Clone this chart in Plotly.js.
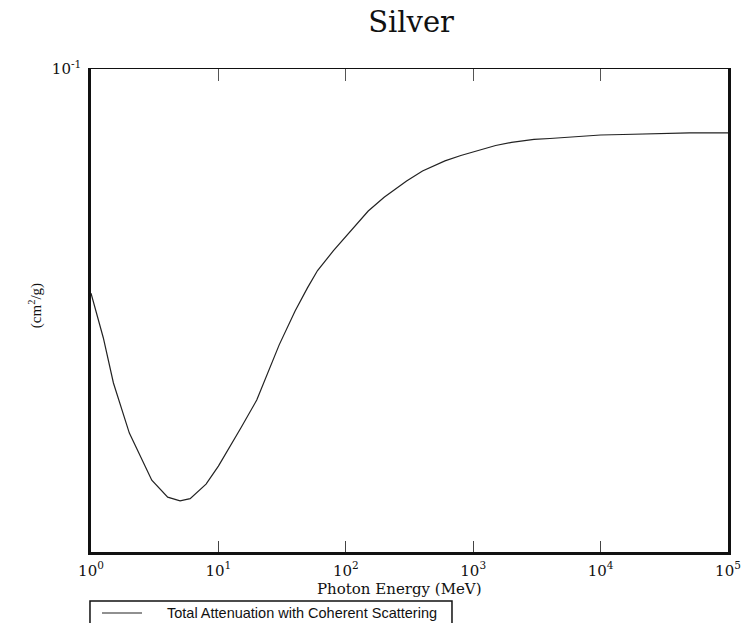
<!DOCTYPE html>
<html>
<head>
<meta charset="utf-8">
<script src="https://cdn.plot.ly/plotly-3.0.1.min.js"></script>
<style>html,body{margin:0;padding:0;background:#fff;}#chart{width:746px;height:623px;}</style>
</head>
<body>
<div id="chart"></div>
<script>
// Photon energy (MeV)
const energy = [1, 1.25, 1.5, 2, 3, 4, 5, 6, 8, 10, 15, 20, 30, 40, 50, 60, 80, 100, 150, 200, 300, 400, 500, 600, 800, 1000, 1500, 2000, 3000, 4000, 5000, 6000, 8000, 10000, 15000, 20000, 30000, 40000, 50000, 60000, 80000, 100000];
// Total attenuation with coherent scattering (cm2/g)
const attenuation = [0.05840, 0.05246, 0.04709, 0.04176, 0.03730, 0.03581, 0.03549, 0.03568, 0.03695, 0.03858, 0.04227, 0.04520, 0.05160, 0.05598, 0.05916, 0.06167, 0.06468, 0.06688, 0.07113, 0.07351, 0.07645, 0.07830, 0.07935, 0.08022, 0.08126, 0.08195, 0.08324, 0.08386, 0.08446, 0.08465, 0.08485, 0.08505, 0.08526, 0.08536, 0.08546, 0.08557, 0.08568, 0.08574, 0.08578, 0.08578, 0.08578, 0.08578];
const xTickVals = [1, 10, 100, 1000, 10000, 100000];
const xTickText = ['10<sup>0</sup>', '10<sup>1</sup>', '10<sup>2</sup>', '10<sup>3</sup>', '10<sup>4</sup>', '10<sup>5</sup>'];
const yTickVals = [0.1];
const yTickText = ['10<sup>-1</sup>'];
const seriesName = 'Total Attenuation with Coherent Scattering';

const serif = 'DejaVu Serif, Liberation Serif, serif';
const traces = [
  {x: energy, y: attenuation, type: 'scatter', mode: 'lines', name: seriesName,
   line: {color: '#222', width: 1.2}, showlegend: false},
  {x: [], y: [], xaxis: 'x2', type: 'scatter', mode: 'lines', showlegend: false, hoverinfo: 'skip'}
];

const layout = {
  width: 746, height: 623,
  margin: {l: 91, r: 18, t: 69, b: 71, autoexpand: false},
  paper_bgcolor: '#fff', plot_bgcolor: '#fff',
  showlegend: false,
  title: {text: 'Silver', font: {family: serif, size: 29, color: '#111'},
          x: 0.551, xref: 'container', xanchor: 'center', y: 0.9647, yref: 'container', yanchor: 'middle'},
  xaxis: {type: 'log', range: [0, 5], tickvals: xTickVals, ticktext: xTickText,
          ticks: 'inside', ticklen: 11, tickwidth: 1.2, tickcolor: '#444',
          showline: true, linewidth: 2.5, linecolor: '#111', mirror: false,
          showgrid: false, zeroline: false, ticklabelstandoff: 3,
          tickfont: {family: serif, size: 15, color: '#111'}},
  xaxis2: {type: 'log', range: [0, 5], overlaying: 'x', side: 'top', anchor: 'y',
           tickvals: xTickVals, showticklabels: false,
           ticks: 'inside', ticklen: 12, tickwidth: 1.2, tickcolor: '#555',
           showline: true, linewidth: 1.5, linecolor: '#111', showgrid: false, zeroline: false},
  yaxis: {type: 'log', range: [-1.5031, -1], tickvals: yTickVals, ticktext: yTickText,
          ticks: '', showline: true, linewidth: 2.8, linecolor: '#111', mirror: true,
          showgrid: false, zeroline: false, ticklabelstandoff: 4,
          tickfont: {family: serif, size: 15, color: '#111'}},
  annotations: [
    {text: 'Photon Energy (MeV)', xref: 'paper', yref: 'paper', x: 0.485, y: -0.0766,
     xanchor: 'center', yanchor: 'middle', showarrow: false,
     font: {family: serif, size: 15, color: '#111'}},
    {text: '(cm<sup>2</sup>/g)', xref: 'paper', yref: 'paper', x: -0.0879, y: 0.509,
     xanchor: 'center', yanchor: 'middle', showarrow: false, textangle: -90,
     font: {family: 'Liberation Serif, serif', size: 15, color: '#111'}},
    {text: seriesName, xref: 'paper', yref: 'paper', x: 0.1162, y: -0.1263,
     xanchor: 'left', yanchor: 'middle', showarrow: false,
     font: {family: 'Liberation Sans, Arial, sans-serif', size: 14.5, color: '#111'}}
  ],
  shapes: [
    {type: 'rect', xref: 'paper', yref: 'paper', x0: -0.0016, x1: 0.5667, y0: -0.1014, y1: -0.19,
     line: {color: '#111', width: 1.5}, fillcolor: 'rgba(0,0,0,0)'},
    {type: 'line', xref: 'paper', yref: 'paper', x0: 0.01727, x1: 0.0801, y0: -0.1263, y1: -0.1263,
     line: {color: '#222', width: 1.2}}
  ]
};

Plotly.newPlot('chart', traces, layout, {displayModeBar: false, staticPlot: true});
</script>
</body>
</html>
